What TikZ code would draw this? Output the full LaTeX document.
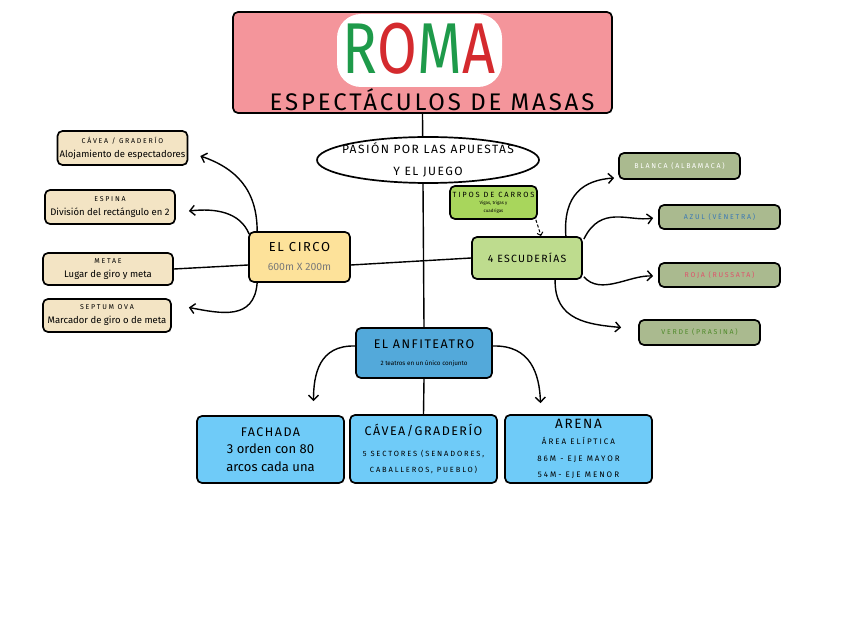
\documentclass[tikz,border=0pt]{standalone}
\usepackage{fontspec}
\setmainfont{Fira Sans}
\newfontfamily\capsfont[LetterSpace=12]{Fira Sans}
\newfontfamily\widefont[LetterSpace=25]{Fira Sans}
\usetikzlibrary{positioning, arrows.meta, shapes.geometric, calc, backgrounds}

\definecolor{titlepink}{HTML}{F4959B}
\definecolor{romagreen}{HTML}{1E9A4A}
\definecolor{romared}{HTML}{D42A2E}
\definecolor{circoyellow}{HTML}{FDE29A}
\definecolor{escgreen}{HTML}{BEDC8E}
\definecolor{tiposgreen}{HTML}{A8D65C}
\definecolor{beige}{HTML}{F3E4C4}
\definecolor{olive}{HTML}{AABA8F}
\definecolor{anfiblue}{HTML}{53A9DA}
\definecolor{lightblue}{HTML}{6FCBF8}
\definecolor{azultext}{HTML}{3A78B5}
\definecolor{rojatext}{HTML}{E0506A}
\definecolor{verdetext}{HTML}{4F8A2A}
\definecolor{greytext}{HTML}{7A7A7A}

\tikzset{
  box/.style={draw, line width=1.7pt, rounded corners=5pt, inner sep=0pt, align=center},
  titlebox/.style={box, fill=titlepink},
  circobox/.style={box, fill=circoyellow},
  escbox/.style={box, fill=escgreen},
  tiposbox/.style={box, fill=tiposgreen},
  leftbox/.style={box, fill=beige, minimum width=130pt, minimum height=34pt, font=\fontsize{9.5}{14}\selectfont},
  rightbox/.style={box, fill=olive, minimum width=121pt, minimum height=25pt, font=\widefont\fontsize{7}{8}\selectfont},
  anfibox/.style={box, fill=anfiblue},
  bottombox/.style={box, fill=lightblue, minimum width=147pt, minimum height=68pt},
  link/.style={line width=1.4pt},
  arrow/.style={link, -{Straight Barb[length=5pt, width=10pt]}},
}

\begin{document}
\begin{tikzpicture}[x=1pt, y=-1pt]
\useasboundingbox (0,0) rectangle (848,636);

% title
\node[titlebox, minimum width=379pt, minimum height=101pt] (title) at (422.5,62.5) {};
\fill[white, rounded corners=24pt] (337,14) rectangle (502,87);
\node (roma) at (419,49) {\scalebox{0.8}[1]{\fontsize{72}{72}\selectfont
  \textcolor{romagreen}{R}\textcolor{romared}{O}\textcolor{romagreen}{M}\textcolor{romared}{A}}};
\node[font=\capsfont\fontsize{24}{24}\selectfont] (subtitle) at (432,100) {ESPECTÁCULOS DE MASAS};

% centre
\node[ellipse, draw, line width=1.7pt, fill=white, minimum width=222pt, minimum height=46pt, inner xsep=-12pt, inner ysep=-4pt, align=center,
  font=\capsfont\fontsize{12}{22}\selectfont] (pasion) at (428,160) {PASIÓN POR LAS APUESTAS\\Y EL JUEGO};

\node[circobox, minimum width=101pt, minimum height=50pt] (circo) at (299.5,257)
  {{\capsfont\fontsize{13}{13}\selectfont EL CIRCO}\\[7pt]{\fontsize{10.5}{11}\selectfont\color{greytext}600m X 200m}};
\node[escbox, minimum width=110pt, minimum height=42pt, font=\capsfont\fontsize{10.5}{11}\selectfont] (esc) at (527,258) {4 ESCUDERÍAS};
\node[tiposbox, minimum width=87pt, minimum height=33pt, font=\fontsize{4.5}{7.5}\selectfont] (tipos) at (493.5,202.5)
  {{\widefont\fontsize{7.5}{8}\selectfont TIPOS DE CARROS}\\Vigas, trigas y\\cuadrigas};

% circo branches
\node[leftbox] (cav) at (122.5,148)
  {{\widefont\fontsize{7}{8}\selectfont CÁVEA / GRADERÍO}\\Alojamiento de espectadores};
\node[leftbox] (espina) at (110,207)
  {{\widefont\fontsize{7}{8}\selectfont ESPINA}\\División del rectángulo en 2};
\node[leftbox, minimum height=32pt] (metae) at (108,269)
  {{\widefont\fontsize{7}{8}\selectfont METAE}\\Lugar de giro y meta};
\node[leftbox, minimum width=128pt, minimum height=33pt] (septum) at (107,315.5)
  {{\widefont\fontsize{7}{8}\selectfont SEPTUM OVA}\\Marcador de giro o de meta};

% escuderias branches
\node[rightbox, minimum height=26pt, text=white] (blanca) at (679.5,166) {BLANCA (ALBAMACA)};
\node[rightbox, minimum height=24pt, text=azultext] (azul) at (719.5,217) {AZUL (VÉNETRA)};
\node[rightbox, minimum height=24pt, text=rojatext] (roja) at (719.5,275) {ROJA (RUSSATA)};
\node[rightbox, text=verdetext] (verde) at (699.5,332.5) {VERDE (PRASINA)};

% anfiteatro
\node[anfibox, minimum width=136pt, minimum height=50pt] (anfi) at (424,353)
  {{\capsfont\fontsize{12.5}{13}\selectfont EL ANFITEATRO}\\[5pt]{\fontsize{6.3}{7}\selectfont 2 teatros en un único conjunto}};
\node[bottombox, minimum height=67pt, font=\fontsize{13}{17.5}\selectfont] (fachada) at (270.5,449.5)
  {{\capsfont\fontsize{12.5}{13}\selectfont FACHADA}\\3 orden con 80\\arcos cada una};
\node[bottombox, font=\widefont\fontsize{7.5}{16}\selectfont] (caveab) at (423.5,449)
  {{\capsfont\fontsize{12.5}{13}\selectfont CÁVEA/GRADERÍO}\\[5pt]5 SECTORES (SENADORES,\\CABALLEROS, PUEBLO)};
\node[bottombox, font=\widefont\fontsize{8}{16.5}\selectfont] (arena) at (578.5,449)
  {{\capsfont\fontsize{13.5}{13}\selectfont ARENA}\\ÁREA ELÍPTICA\\86M - EJE MAYOR\\54M- EJE MENOR};

% connectors
\begin{pgfonlayer}{background}
\draw[link] (title.south) -- (anfi.north);
\end{pgfonlayer}
\draw[link] ($(circo.east)+(0,8)$) -- (esc.west);
\draw[link] (metae.east) -- ($(circo.west)+(0,8)$);
\draw[link] (anfi.south) -- (caveab.north);

\coordinate (cavtip) at ($(cav.east)+(12,8)$);
\coordinate (espinatip) at ($(espina.east)+(13,4)$);
\coordinate (septumtip) at ($(septum.east)+(17,-8)$);
\draw[arrow] ($(circo.north west)+(9,0)$) .. controls +(0,-42) and +(35,12) .. (cavtip);
\draw[arrow] ($(circo.north west)+(1,3)$) .. controls +(-9,-22) and +(27,-3) .. (espinatip);
\draw[arrow] ($(circo.south west)+(9,0)$) .. controls +(-3,38) and +(32,6) .. (septumtip);

\coordinate (blancatip) at ($(blanca.west)+(-4,12)$);
\coordinate (azultip) at ($(azul.west)+(-5,1)$);
\coordinate (rojatip) at ($(roja.west)+(-5,1)$);
\coordinate (verdetip) at ($(verde.west)+(-17,-5)$);
\draw[arrow] ($(esc.north east)+(-17,0)$) .. controls +(-3,-42) and +(-30,2) .. (blancatip);
\draw[arrow] ($(esc.north east)+(1,3)$) .. controls +(17,-35) and +(-24,4) .. (azultip);
\draw[arrow] ($(esc.south east)+(1,-3)$) .. controls +(17,19) and +(-24,-1) .. (rojatip);
\draw[arrow] ($(esc.south west)+(84,0)$) .. controls +(-1,41) and +(-32,-3) .. (verdetip);

\draw[link, line width=1pt, densely dashed, -{Straight Barb[length=3pt, width=6pt]}] ($(tipos.south east)+(-2,0)$) .. controls +(3,9) .. ($(esc.north)+(14,0)$);

\coordinate (fachadatip) at ($(fachada.north)+(43,-14)$);
\coordinate (arenatip) at ($(arena.north)+(-38,-11)$);
\draw[arrow] ($(anfi.west)+(0,-7)$) .. controls +(-36,-1) and +(0,-27) .. (fachadatip);
\draw[arrow] ($(anfi.east)+(0,-7)$) .. controls +(38,-1) and +(-1,-29) .. (arenatip);
\end{tikzpicture}
\end{document}
